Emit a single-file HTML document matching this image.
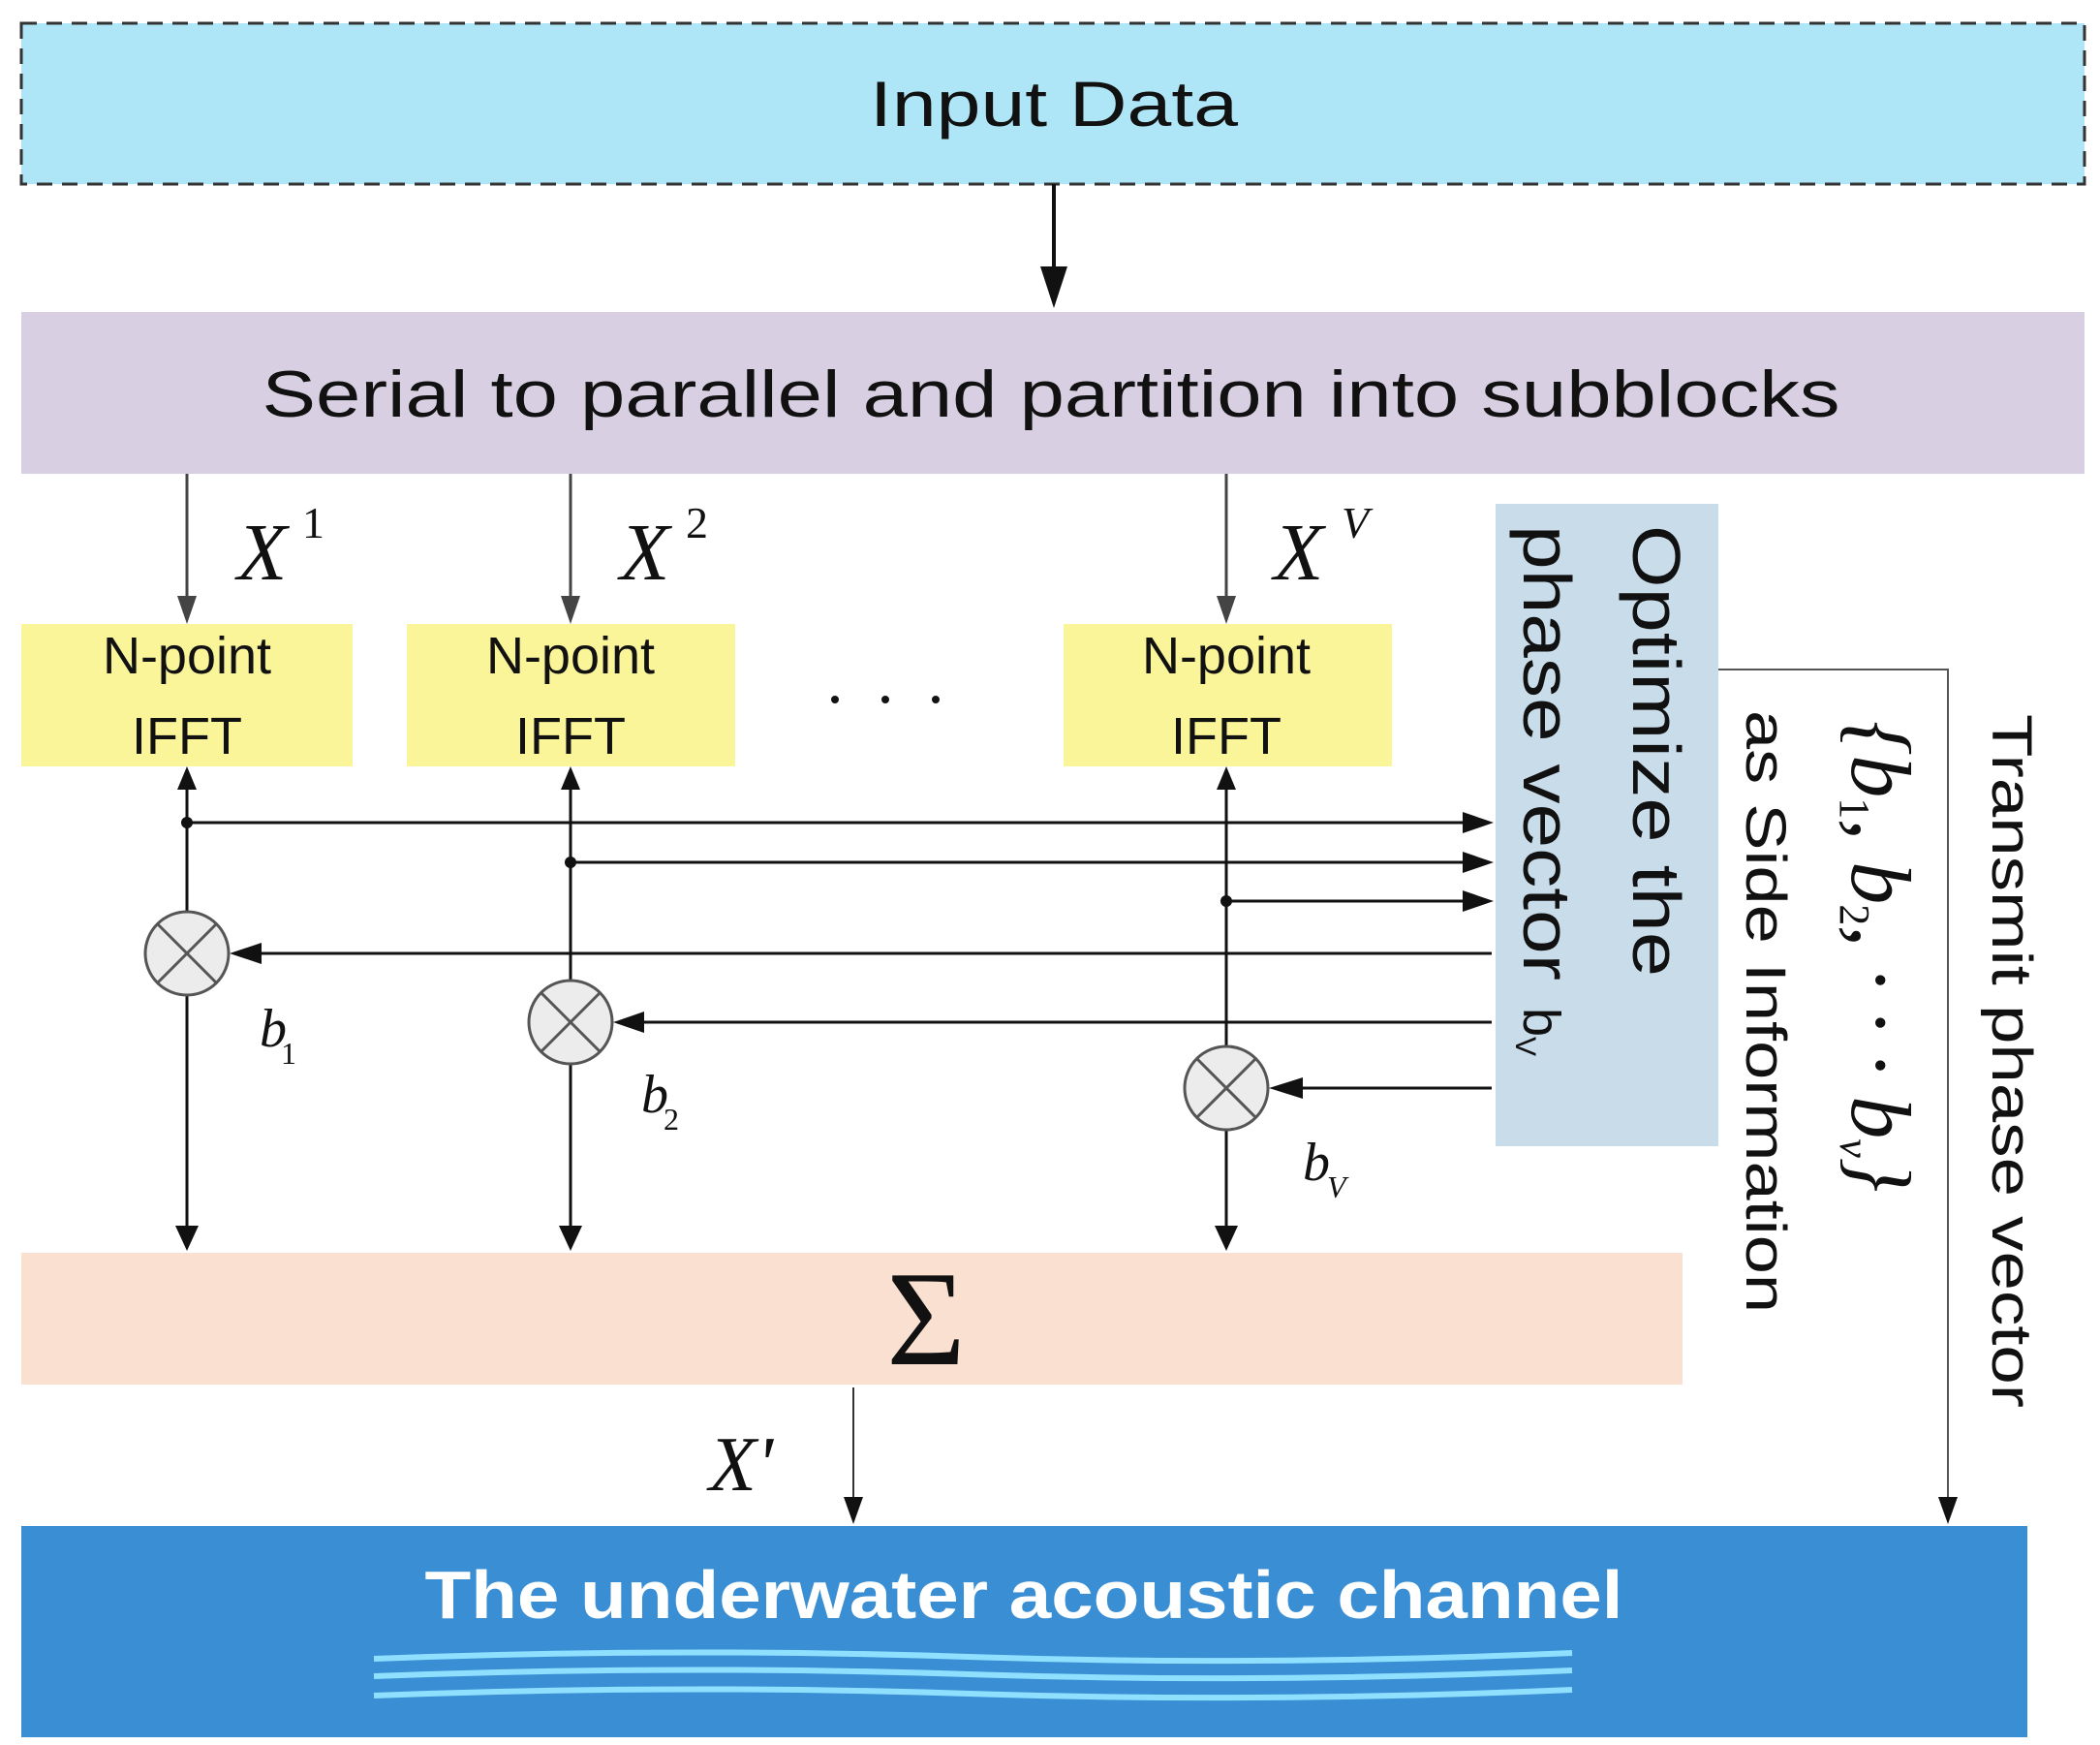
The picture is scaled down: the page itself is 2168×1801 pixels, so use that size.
<!DOCTYPE html>
<html><head><meta charset="utf-8"><style>html,body{margin:0;padding:0;background:#fff}svg{display:block}</style></head>
<body>
<svg width="2168" height="1801" viewBox="0 0 2168 1801" xmlns="http://www.w3.org/2000/svg">
<g font-family="Liberation Sans, sans-serif">
<!-- Input Data -->
<rect x="22" y="24" width="2130" height="166" fill="#aee6f7" stroke="#333" stroke-width="3" stroke-dasharray="16,10"/>
<text x="1088" y="130" font-size="66" text-anchor="middle" fill="#111" textLength="380" lengthAdjust="spacingAndGlyphs">Input Data</text>
<line x1="1088" y1="190" x2="1088" y2="285" stroke="#111" stroke-width="4"/>
<polygon points="1074,275 1102,275 1088,318" fill="#111"/>
<!-- Serial -->
<rect x="22" y="322" width="2130" height="167" fill="#d8d0e2"/>
<text x="1085" y="430" font-size="68" text-anchor="middle" fill="#111" textLength="1629" lengthAdjust="spacingAndGlyphs">Serial to parallel and partition into subblocks</text>
<g stroke="#444" stroke-width="3">
<line x1="193" y1="489" x2="193" y2="625"/><line x1="589" y1="489" x2="589" y2="625"/><line x1="1266" y1="489" x2="1266" y2="625"/>
</g>
<g fill="#444">
<polygon points="183,615 203,615 193,644"/><polygon points="579,615 599,615 589,644"/><polygon points="1256,615 1276,615 1266,644"/>
</g>
<g font-family="Liberation Serif, serif" font-style="italic" fill="#111">
<text x="245" y="598" font-size="84">X</text><text x="312" y="555" font-size="46" font-style="normal">1</text>
<text x="640" y="598" font-size="84">X</text><text x="708" y="555" font-size="46" font-style="normal">2</text>
<text x="1315" y="598" font-size="84">X</text><text x="1385" y="555" font-size="46">V</text>
</g>
<g fill="#fbf59a"><rect x="22" y="644" width="342" height="147"/><rect x="420" y="644" width="339" height="147"/><rect x="1098" y="644" width="339" height="147"/></g>
<g font-size="54" text-anchor="middle" fill="#111">
<text x="193" y="695">N-point</text><text x="193" y="778">IFFT</text>
<text x="589" y="695">N-point</text><text x="589" y="778">IFFT</text>
<text x="1266" y="695">N-point</text><text x="1266" y="778">IFFT</text>
</g>
<g fill="#111"><circle cx="862" cy="722" r="4"/><circle cx="914" cy="722" r="4"/><circle cx="966" cy="722" r="4"/></g>
<rect x="1544" y="520" width="230" height="663" fill="#c9dcea"/>
<g stroke="#111" stroke-width="3" fill="none">
<line x1="193" y1="805" x2="193" y2="941"/><line x1="193" y1="1027" x2="193" y2="1275"/>
<line x1="589" y1="805" x2="589" y2="1012"/><line x1="589" y1="1098" x2="589" y2="1275"/>
<line x1="1266" y1="805" x2="1266" y2="1080"/><line x1="1266" y1="1166" x2="1266" y2="1275"/>
<line x1="193" y1="849" x2="1515" y2="849"/><line x1="589" y1="890" x2="1515" y2="890"/><line x1="1266" y1="930" x2="1515" y2="930"/>
<line x1="1540" y1="984" x2="260" y2="984"/><line x1="1540" y1="1055" x2="655" y2="1055"/><line x1="1540" y1="1123" x2="1335" y2="1123"/>
</g>
<g fill="#111">
<polygon points="183,815 203,815 193,791"/><polygon points="579,815 599,815 589,791"/><polygon points="1256,815 1276,815 1266,791"/>
<circle cx="193" cy="849" r="6"/><circle cx="589" cy="890" r="6"/><circle cx="1266" cy="930" r="6"/>
<polygon points="1510,838 1510,860 1542,849"/><polygon points="1510,879 1510,901 1542,890"/><polygon points="1510,919 1510,941 1542,930"/>
<polygon points="270,973 270,995 237,984"/><polygon points="665,1044 665,1066 633,1055"/><polygon points="1345,1112 1345,1134 1310,1123"/>
<polygon points="181,1265 205,1265 193,1291"/><polygon points="577,1265 601,1265 589,1291"/><polygon points="1254,1265 1278,1265 1266,1291"/>
</g>
<g stroke="#555" stroke-width="3" fill="#ececec">
<circle cx="193" cy="984" r="43"/><circle cx="589" cy="1055" r="43"/><circle cx="1266" cy="1123" r="43"/>
</g>
<g stroke="#555" stroke-width="3">
<line x1="163" y1="954" x2="223" y2="1014"/><line x1="223" y1="954" x2="163" y2="1014"/>
<line x1="559" y1="1025" x2="619" y2="1085"/><line x1="619" y1="1025" x2="559" y2="1085"/>
<line x1="1236" y1="1093" x2="1296" y2="1153"/><line x1="1296" y1="1093" x2="1236" y2="1153"/>
</g>
<g font-family="Liberation Serif, serif" font-style="italic" fill="#111">
<text x="268" y="1080" font-size="56">b</text><text x="290" y="1098" font-size="32" font-style="normal">1</text>
<text x="662" y="1148" font-size="56">b</text><text x="685" y="1166" font-size="32" font-style="normal">2</text>
<text x="1345" y="1218" font-size="56">b</text><text x="1370" y="1236" font-size="32">V</text>
</g>
<rect x="22" y="1293" width="1715" height="136" fill="#fae0d0"/>
<text x="956" y="1408" font-family="Liberation Serif, serif" font-size="140" text-anchor="middle" fill="#111">Σ</text>
<line x1="881" y1="1432" x2="881" y2="1550" stroke="#333" stroke-width="2"/>
<polygon points="871,1545 891,1545 881,1573" fill="#111"/>
<text x="732" y="1538" font-family="Liberation Serif, serif" font-style="italic" font-size="80" fill="#111">X'</text>
<polyline points="1774,691 2011,691 2011,1550" fill="none" stroke="#555" stroke-width="2"/>
<polygon points="2001,1545 2021,1545 2011,1573" fill="#111"/>
<text transform="translate(1686,542) rotate(90)" font-size="70" fill="#111" textLength="466" lengthAdjust="spacingAndGlyphs">Optimize the</text>
<text transform="translate(1573,542) rotate(90)" font-size="70" fill="#111" textLength="470" lengthAdjust="spacingAndGlyphs">phase vector</text>
<text transform="translate(1573,1040) rotate(90)" font-size="54" fill="#111">b<tspan font-size="30" dy="8">V</tspan></text>
<text transform="translate(1803,733) rotate(90)" font-size="58" fill="#111" textLength="622" lengthAdjust="spacingAndGlyphs">as Side Information</text>
<text transform="translate(2057,737) rotate(90)" font-size="58" fill="#111" textLength="716" lengthAdjust="spacingAndGlyphs">Transmit phase vector</text>
<text transform="translate(1912,744) rotate(90)" font-family="Liberation Serif, serif" font-style="italic" font-size="88" fill="#111">{b<tspan font-size="44" dy="12" font-style="normal">1</tspan><tspan dy="-12">, b</tspan><tspan font-size="44" dy="12" font-style="normal">2</tspan><tspan dy="-12">, · · · b</tspan><tspan font-size="44" dy="12">v</tspan><tspan dy="-12">}</tspan></text>
<rect x="22" y="1575" width="2071" height="218" fill="#3a8fd4"/>
<text x="1057" y="1670" font-size="70" font-weight="bold" text-anchor="middle" fill="#fff" textLength="1237" lengthAdjust="spacingAndGlyphs">The underwater acoustic channel</text>
<g stroke="#8fe0ff" stroke-width="6" fill="none">
<path d="M386,1712 Q700,1700 1000,1710 T1623,1706"/>
<path d="M386,1730 Q700,1718 1000,1728 T1623,1724"/>
<path d="M386,1750 Q700,1738 1000,1748 T1623,1744"/>
</g>
</g>
</svg>
</body></html>
